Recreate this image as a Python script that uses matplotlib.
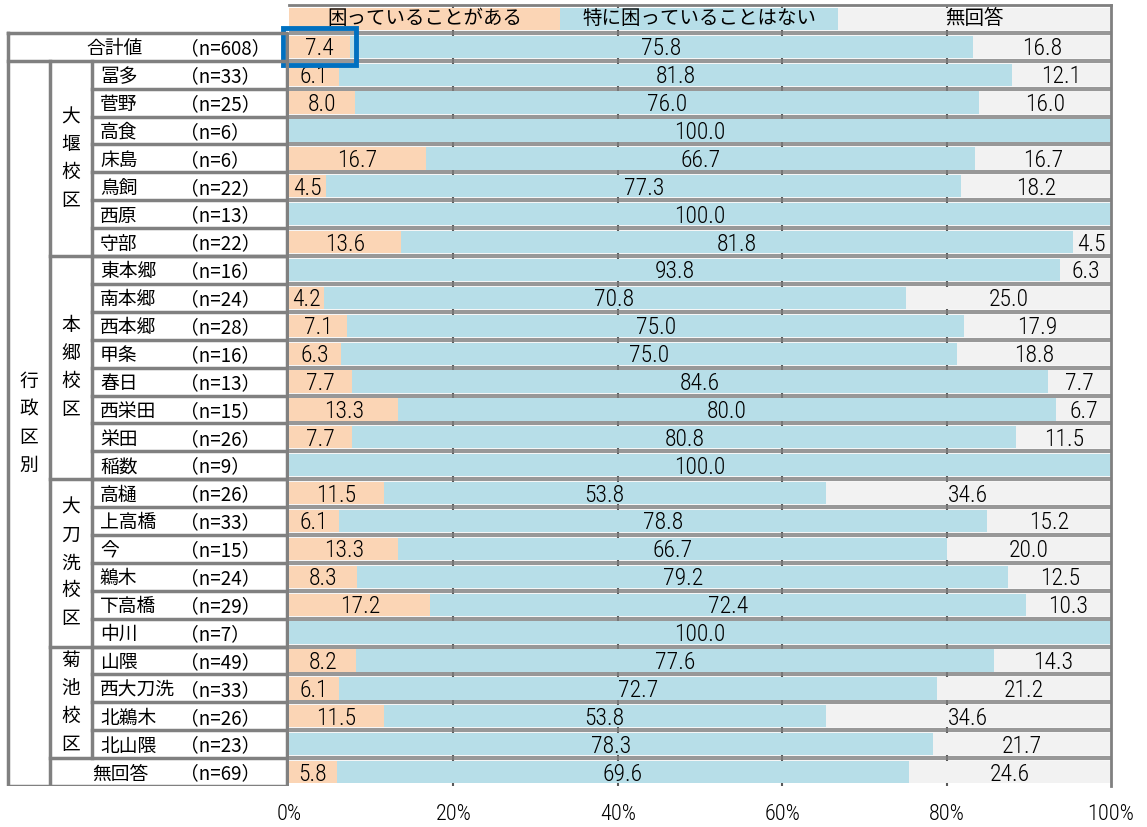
import matplotlib
matplotlib.use("Agg")
import matplotlib.pyplot as plt
from matplotlib.patches import Rectangle

plt.rcParams['font.family'] = ['Noto Sans CJK JP', 'DejaVu Sans']
num_font = ['Roboto Condensed', 'DejaVu Sans']

# データ（困っていることがある / 特に困っていることはない / 無回答）
names = ['合計値', '冨多', '菅野', '高食', '床島', '鳥飼', '西原', '守部',
         '東本郷', '南本郷', '西本郷', '甲条', '春日', '西栄田', '栄田', '稲数',
         '高樋', '上高橋', '今', '鵜木', '下高橋', '中川',
         '山隈', '西大刀洗', '北鵜木', '北山隈', '無回答']
n_values = [608, 33, 25, 6, 6, 22, 13, 22,
            16, 24, 28, 16, 13, 15, 26, 9,
            26, 33, 15, 24, 29, 7,
            49, 33, 26, 23, 69]
aru = [7.4, 6.1, 8.0, 0, 16.7, 4.5, 0, 13.6,
       0, 4.2, 7.1, 6.3, 7.7, 13.3, 7.7, 0,
       11.5, 6.1, 13.3, 8.3, 17.2, 0,
       8.2, 6.1, 11.5, 0, 5.8]
nai = [75.8, 81.8, 76.0, 100.0, 66.7, 77.3, 100.0, 81.8,
       93.8, 70.8, 75.0, 75.0, 84.6, 80.0, 80.8, 100.0,
       53.8, 78.8, 66.7, 79.2, 72.4, 100.0,
       77.6, 72.7, 53.8, 78.3, 69.6]
mukaitou = [16.8, 12.1, 16.0, 0, 16.7, 18.2, 0, 4.5,
            6.3, 25.0, 17.9, 18.8, 7.7, 6.7, 11.5, 0,
            34.6, 15.2, 20.0, 12.5, 10.3, 0,
            14.3, 21.2, 34.6, 21.7, 24.6]
series_names = ['困っていることがある', '特に困っていることはない', '無回答']
colors = ['#FBD5B5', '#B7DEE8', '#F2F2F2']

# 校区グループ（開始行, 終了行, 名前）
groups = [(1, 7, '大堰校区'), (8, 15, '本郷校区'), (16, 21, '大刀洗校区'), (22, 25, '菊池校区')]

W, H = 1147, 827
fig = plt.figure(figsize=(W / 100, H / 100), dpi=100)
bottom = 1 - 786 / H
top = 1 - 5 / H
ax = fig.add_axes([289 / W, bottom, (1111 - 289) / W, top - bottom])
tab = fig.add_axes([0, bottom, 289 / W, top - bottom])

nrow = len(names)
ylim = (nrow - 0.5, -1.5)
line_c = '#808080'
dy = 0.07  # 文字を少し下げる

# グリッド・区切り線
for x in [20, 40, 60, 80]:
    ax.axvline(x, color='#595959', lw=1.5, zorder=0)
for k in range(-1, nrow - 1):
    ax.axhline(k + 0.5, color='#7f7f7f', lw=3, zorder=1, alpha=0.8)

ys = list(range(nrow))
left2 = aru
left3 = [a + b for a, b in zip(aru, nai)]
ax.barh(ys, aru, height=0.8, color=colors[0], zorder=2)
ax.barh(ys, nai, left=left2, height=0.8, color=colors[1], zorder=2)
ax.barh(ys, mukaitou, left=left3, height=0.8, color=colors[2], zorder=2)

for i in range(nrow):
    vals = [aru[i], nai[i], mukaitou[i]]
    lefts = [0, left2[i], left3[i]]
    for v, l in zip(vals, lefts):
        if v > 0:
            ax.text(l + v / 2, i + dy, f'{v:.1f}', ha='center', va='center',
                    fontsize=17, family=num_font, fontweight='light', zorder=4)

# 凡例（見出し行）
head_w = [33.0, 33.8, 33.2]
hl = 0
for w, c, s in zip(head_w, colors, series_names):
    ax.barh(-1, w, left=hl, height=0.8, color=c, zorder=2)
    ax.text(hl + w / 2, -1.0, s, ha='center', va='center', fontsize=14, zorder=4)
    hl += w

# 合計値の強調枠
ax.add_patch(Rectangle((-0.7, -0.68), 8.85, 1.33, fill=False, ec='#0070C0',
                       lw=3.5, zorder=5, clip_on=False))

ax.set_xlim(0, 100)
ax.set_ylim(*ylim)
ax.set_yticks([])
ax.set_xticks([0, 20, 40, 60, 80, 100])
ax.set_xticklabels(['0%', '20%', '40%', '60%', '80%', '100%'], fontsize=16,
                   family=num_font, fontweight='light')
ax.tick_params(axis='x', length=0, pad=13)
for s in ax.spines.values():
    s.set_color(line_c)
    s.set_linewidth(2)
ax.spines['bottom'].set_visible(False)
ax.spines['left'].set_visible(False)

# 左側の表
tab.set_xlim(0, 289)
tab.set_ylim(*ylim)
tab.axis('off')
lk = dict(color=line_c, lw=2.5, solid_capstyle='projecting')
tab.plot([8, 287, 287, 8, 8], [-0.5, -0.5, nrow - 0.5, nrow - 0.5, -0.5], **lk)
tab.plot([8, 287], [0.5, 0.5], **lk)
tab.plot([50, 50], [0.5, nrow - 0.5], **lk)
tab.plot([92, 92], [0.5, nrow - 1.5], **lk)
for k in range(1, nrow - 2):
    tab.plot([92, 287], [k + 0.5, k + 0.5], **lk)
for g0, g1, gname in groups:
    tab.plot([50, 287], [g1 + 0.5, g1 + 0.5], **lk)
    c = (g0 + g1) / 2
    for j, ch in enumerate(gname):
        tab.text(71, c + j - (len(gname) - 1) / 2, ch, ha='center', va='center', fontsize=13.5)
for j, ch in enumerate('行政区別'):
    tab.text(29, 13.5 + j - 1.5, ch, ha='center', va='center', fontsize=13.5)

for i, (nm, nv) in enumerate(zip(names, n_values)):
    if i == 0:
        x0 = 86
    elif i == nrow - 1:
        x0 = 92
    else:
        x0 = 100
    tab.text(x0, i + dy, nm, ha='left', va='center', fontsize=13.5)
    tab.text(180, i + dy, f'（n={nv}）', ha='left', va='center', fontsize=13.5)

fig.savefig('out.png', dpi=100)
